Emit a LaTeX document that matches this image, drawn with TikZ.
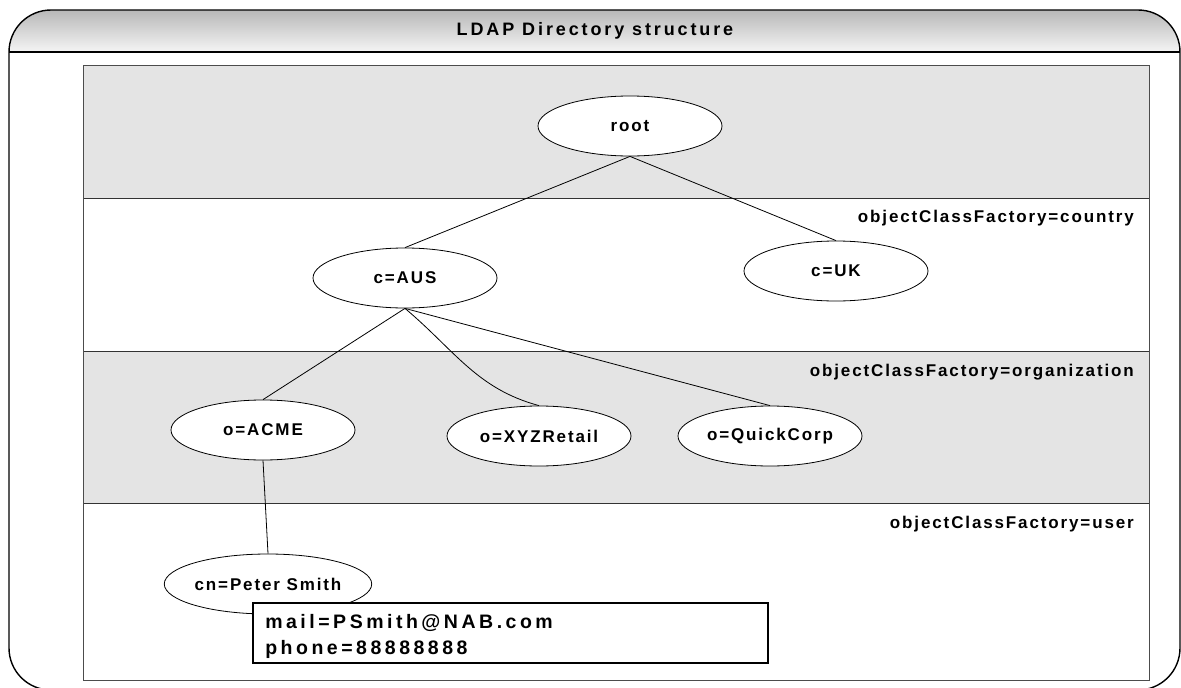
\documentclass[tikz,border=0pt]{standalone}
\usepackage{fontspec}
\usepackage{tikz}
\usetikzlibrary{shapes.geometric}

\newfontfamily\ldapfont[LetterSpace=11]{Liberation Sans}
\newfontfamily\titlefont[LetterSpace=16]{Liberation Sans}
\newfontfamily\boxfont[LetterSpace=18]{Liberation Sans}
\definecolor{bandgray}{HTML}{E4E4E4}

\begin{document}
\begin{tikzpicture}
 [x=1pt, y=-1pt,
  entry node/.style={ellipse, draw, fill=white, line width=0.8pt, minimum width=184pt, minimum height=60pt, inner sep=0pt, font=\ldapfont\bfseries\fontsize{17}{20}\selectfont},
  class label/.style={anchor=east, inner sep=0pt, font=\ldapfont\bfseries\fontsize{17}{20}\selectfont},
  band line/.style={draw=black!80, line width=0.8pt},
  link/.style={line width=0.8pt}]

\useasboundingbox (0,0) rectangle (1181,688);

% frame and title bar
\begin{scope}
  \clip[rounded corners=42pt] (9,10) rectangle (1180,690);
  \shade[top color=black!28, bottom color=black!4] (9,10) rectangle (1180,52);
\end{scope}
\draw[line width=1.4pt, rounded corners=42pt] (9,10) rectangle (1180,690);
\draw[line width=1.4pt] (9,52) -- (1180,52);
\node (title) [inner sep=0pt, font=\titlefont\bfseries\fontsize{18}{21}\selectfont] at (595,31) {LDAP Directory structure};

% bands
\fill[bandgray] (83,65) rectangle (1149,198);
\fill[bandgray] (83,351) rectangle (1149,503);
\draw[band line] (83,198) -- (1149,198) (83,351) -- (1149,351) (83,503) -- (1149,503);
\draw[black!70, line width=0.8pt] (83,65) rectangle (1149,680);

\node (country) [class label] at (1134,218) {objectClassFactory=country};
\node (organization) [class label] at (1134,372) {objectClassFactory=organization};
\node (user) [class label] at (1134,524) {objectClassFactory=user};

% entries
\node[entry node] (root) at (630,126) {root};
\node[entry node] (aus) at (405,278) {c=AUS};
\node[entry node] (uk) at (836,271) {c=UK};
\node[entry node] (acme) at (263,430) {o=ACME};
\node[entry node] (xyz) at (539,436) {o=XYZRetail};
\node[entry node] (quick) at (770,436) {o=QuickCorp};
\node[entry node] (peter) at (268,584) {cn=Peter Smith};

\path
  (root.south) edge [link] (aus.north)
  (root.south) edge [link] (uk.north)
  (aus.south) edge [link] (acme.north)
  (aus.south) edge [link, out=-40, in=165] (xyz.north)
  (aus.south) edge [link] (quick.north)
  (acme.south) edge [link] (peter.north);

% attributes
\node (contact) [draw, line width=1.6pt, fill=white, anchor=north west, minimum width=515pt, minimum height=60pt, text width=490pt, inner xsep=11pt, inner ysep=0pt, align=left, font=\boxfont\bfseries\fontsize{19.5}{26}\selectfont] at (252,602) {\rule{0pt}{22pt}mail=PSmith@NAB.com\\phone=88888888};

\end{tikzpicture}
\end{document}
